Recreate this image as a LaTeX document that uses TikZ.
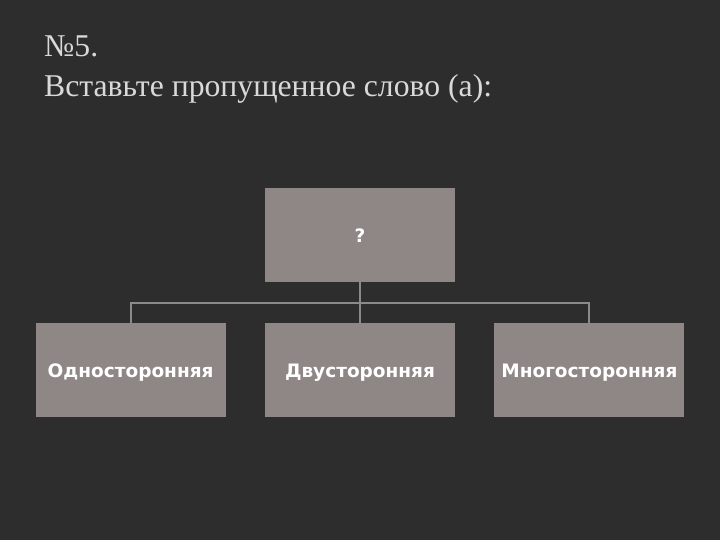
\documentclass[tikz,border=0pt]{standalone}
\usepackage{fontspec}
\setmainfont{Liberation Serif}
\newfontfamily\boxfont{DejaVu Sans}
\usepackage{tikz}
\usetikzlibrary{positioning,calc}
\definecolor{bgdark}{HTML}{2D2D2D}
\definecolor{boxgray}{HTML}{8F8785}
\definecolor{linegray}{HTML}{8C8A89}
\definecolor{titlegray}{HTML}{D9D9D9}

\begin{document}
\begin{tikzpicture}[x=1pt, y=-1pt,
		box/.style={rectangle, fill=boxgray, minimum width=190pt, minimum height=94pt, inner sep=0pt,
			text height=14pt, text depth=0pt,
			text=white, font=\boxfont\bfseries\fontsize{18.5}{22}\selectfont},
		branch/.style={draw=linegray, line width=2pt}]
		\fill [bgdark] (0, 0) rectangle (720, 540);
		\useasboundingbox (0, 0) rectangle (720, 540);
		\node [anchor=base west, text=titlegray, font=\fontsize{31.7}{38}\selectfont, inner sep=0pt] (num) at (44, 57) {№5.};
		\node [anchor=base west, text=titlegray, font=\fontsize{31.7}{38}\selectfont, inner sep=0pt] (task) at (44, 97) {Вставьте пропущенное слово (а):};
		\node [box] (root) at (360, 235) {?};
		\node [box] (mid) at (360, 370) {Двусторонняя};
		\node [box, left=39pt of mid] (one) {Односторонняя};
		\node [box, right=39pt of mid] (many) {Многосторонняя};
		\coordinate (fork) at ($(root.south)!0.5!(mid.north)$);
		\draw [branch] (root.south) -- (mid.north);
		\draw [branch] (one.north) |- (fork) -| (many.north);
	\end{tikzpicture}
\end{document}
